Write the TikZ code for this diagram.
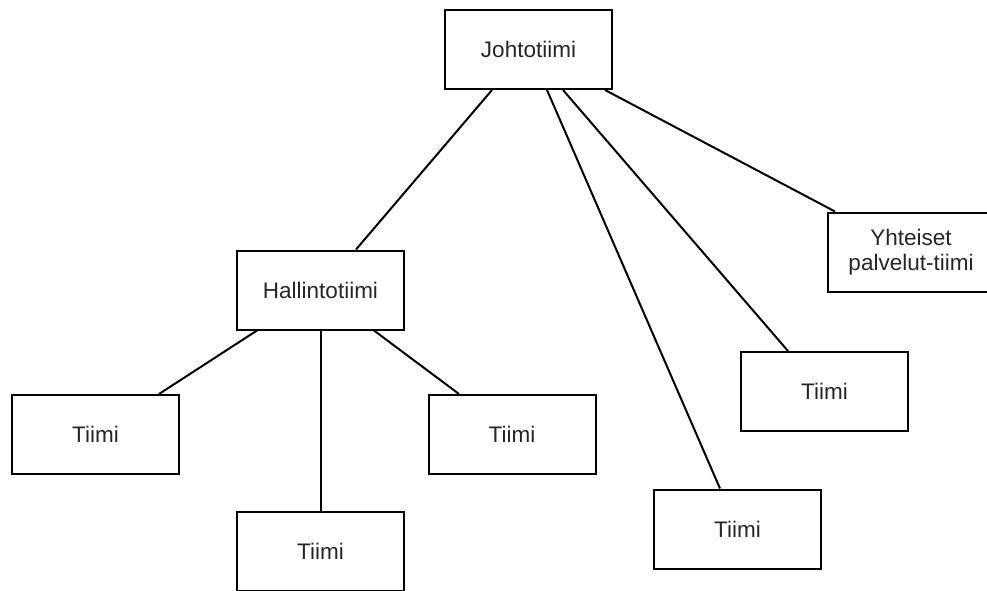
\documentclass[tikz,border=0pt]{standalone}
\usepackage{fontspec}
\setmainfont{Liberation Sans}
\begin{document}
\begin{tikzpicture}[x=1pt,y=-1pt,
  team/.style={draw=black, line width=2pt, fill=white, minimum width=167pt,
    minimum height=79pt, inner sep=0pt, text=black!85,
    font=\fontsize{22.5}{24.5}\selectfont, align=center},
  link/.style={draw=black, line width=2pt}]
  \clip (0,0) rectangle (987,590);
  \fill[white] (0,0) rectangle (987,590);

  % boxes
  \node[team] (johto) at (528.5,49.5) {Johtotiimi};
  \node[team] (hall)  at (320.5,290)  {Hallintotiimi};
  \node[team] (ta)    at (95.5,434.5) {Tiimi};
  \node[team] (tb)    at (320.5,551.5) {Tiimi};
  \node[team] (tc)    at (512,434.5)  {Tiimi};
  \node[team] (td)    at (737.5,529)  {Tiimi};
  \node[team] (te)    at (824.5,391.5) {Tiimi};
  \node[team] (yht)   at (911,252)    {Yhteiset\\palvelut-tiimi};

  % connectors from the management team
  \draw[link] ([xshift=-36.5pt]johto.south) -- ([xshift=35.5pt]hall.north);
  \draw[link] ([xshift=18.5pt]johto.south) -- ([xshift=-17.5pt]td.north);
  \draw[link] ([xshift=34.5pt]johto.south) -- ([xshift=-36.5pt]te.north);
  \draw[link] ([xshift=76.5pt]johto.south) -- ([xshift=-76pt]yht.north);

  % connectors from the administration team
  \draw[link] ([xshift=-63.5pt]hall.south) -- ([xshift=63.5pt]ta.north);
  \draw[link] (hall.south) -- (tb.north);
  \draw[link] ([xshift=53.5pt]hall.south) -- ([xshift=-53pt]tc.north);
\end{tikzpicture}
\end{document}
